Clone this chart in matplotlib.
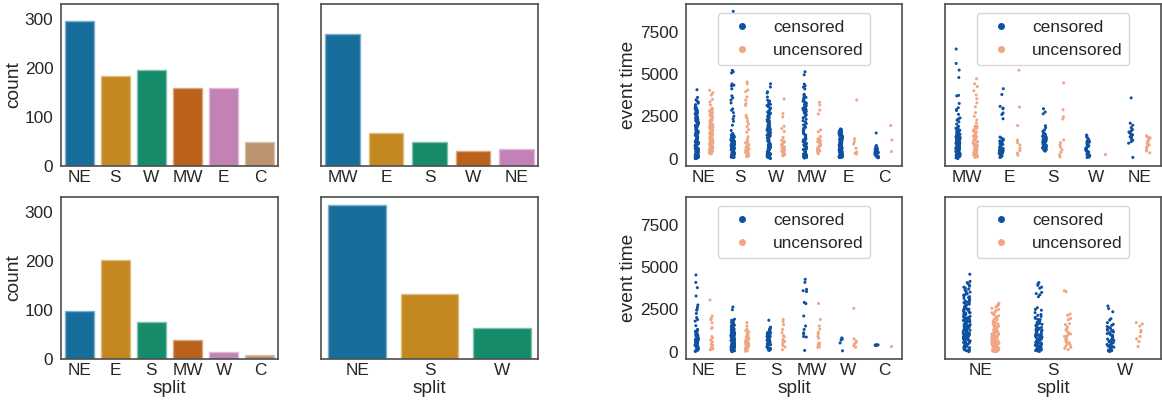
import matplotlib
matplotlib.use("Agg")
import matplotlib.pyplot as plt
from matplotlib.lines import Line2D
import numpy as np
import pandas as pd
import seaborn as sns

sns.set_style("white")
plt.rcParams["font.family"] = ["Liberation Sans", "DejaVu Sans"]
plt.rcParams["text.color"] = "0.15"
plt.rcParams["axes.labelcolor"] = "0.15"
plt.rcParams["xtick.color"] = "0.15"
plt.rcParams["ytick.color"] = "0.15"

np.random.seed(3)

#------------------#
#    bar counts    #
#------------------#
bar_a_cats = ["NE", "S", "W", "MW", "E", "C"]
bar_a_counts = [296, 183, 195, 159, 158, 49]
bar_b_cats = ["MW", "E", "S", "W", "NE"]
bar_b_counts = [268, 68, 49, 31, 34]
bar_c_cats = ["NE", "E", "S", "MW", "W", "C"]
bar_c_counts = [97, 201, 75, 39, 14, 8]
bar_d_cats = ["NE", "S", "W"]
bar_d_counts = [314, 132, 64]

#------------------------------#
#    event times (strip)       #
#------------------------------#
# panel A (top left), order NE S W MW E C
a_cens = {
    "NE": [4070, 3620, 3480, 3410, 3350, 3280, 3190, 3120, 3050, 2980, 2930, 2870, 2850, 2790, 2740, 2710,
           2660, 2620, 2590, 2540, 2510, 2460, 2440, 2390, 2350, 2320, 2280, 2250, 2200, 2180, 2130, 2110,
           2070, 2020, 2000, 1960, 1930, 1880, 1860, 1820, 1790, 1750, 1720, 1690, 1650, 1630, 1590, 1560,
           1520, 1500, 1470, 1440, 1410, 1380, 1350, 1330, 1290, 1270, 1240, 1210, 1180, 1160, 1130, 1100,
           1080, 1050, 1020, 1000, 970, 950, 920, 900, 870, 850, 820, 800, 780, 750, 730, 700, 680, 660,
           630, 610, 590, 560, 540, 520, 500, 470, 450, 430, 410, 380, 360, 340, 320, 300, 280, 260, 240,
           220, 200, 180, 160, 140, 120, 100, 90, 70, 50, 40, 30, 20, 10, 1540, 1250, 980, 760, 610, 420,
           300, 180, 2290, 1870, 1420, 890, 560, 250, 80],
    "S": [8690, 5210, 5130, 5060, 4410, 4340, 4290, 4120, 3710, 3590, 3460, 3290, 2940, 2860, 2720, 2510,
          2360, 2210, 1980, 1670, 1490, 1460, 1430, 1400, 1380, 1350, 1330, 1300, 1280, 1260, 1240, 1220,
          1200, 1180, 1160, 1140, 1120, 1100, 1080, 1060, 1040, 1020, 1000, 980, 960, 940, 920, 900, 880,
          860, 840, 820, 800, 780, 760, 740, 720, 700, 680, 660, 640, 620, 600, 580, 560, 540, 520, 500,
          480, 460, 440, 420, 400, 380, 360, 340, 320, 300, 280, 260, 240, 220, 200, 180, 160, 140, 120,
          100, 80, 1250, 1110, 970, 850, 730, 610, 490, 370, 250, 150, 90],
    "W": [4420, 4230, 3950, 3880, 3640, 3450, 3400, 3330, 3270, 3200, 3140, 3060, 2990, 2900, 2830, 2760,
          2700, 2620, 2560, 2500, 2450, 2390, 2340, 2290, 2230, 2180, 2130, 2080, 2030, 1980, 1930, 1880,
          1830, 1790, 1740, 1700, 1650, 1610, 1570, 1520, 1480, 1440, 1400, 1360, 1320, 1280, 1240, 1200,
          1160, 1120, 1090, 1050, 1010, 980, 940, 910, 870, 840, 810, 780, 750, 720, 690, 660, 630, 600,
          570, 540, 510, 480, 450, 420, 390, 360, 330, 300, 270, 240, 210, 180, 150, 120, 100, 80, 60, 40,
          20, 2750, 2410, 1960, 1530, 1170, 850, 560, 330, 140, 3210, 2650, 2100, 1400, 700, 250],
    "MW": [5130, 4950, 4400, 4300, 4220, 4120, 3800, 3740, 3680, 3620, 3560, 3510, 3460, 3400, 3350, 3300,
           3250, 3210, 3170, 3120, 3080, 3040, 3000, 2960, 2910, 2870, 2830, 2790, 2740, 2700, 2650, 2590,
           2500, 2420, 2330, 2250, 2160, 2080, 2000, 1930, 1860, 1790, 1720, 1650, 1590, 1520, 1460, 1400,
           1340, 1280, 1220, 1170, 1120, 1070, 1020, 970, 920, 880, 840, 800, 760, 720, 680, 640, 600, 560,
           520, 480, 440, 400, 360, 320, 280, 240, 200, 160, 120, 80, 40, 3150, 2980, 2820, 1010, 730, 470,
           190, 1310, 890, 550],
    "E": [1760, 1730, 1700, 1680, 1650, 1620, 1600, 1580, 1550, 1520, 1500, 1470, 1450, 1430, 1400, 1380,
          1350, 1330, 1300, 1280, 1260, 1230, 1210, 1190, 1160, 1140, 1120, 1100, 1080, 1050, 1030, 1010,
          990, 970, 950, 930, 910, 890, 870, 850, 830, 810, 790, 770, 750, 730, 710, 690, 670, 650, 630,
          610, 590, 570, 550, 530, 510, 490, 470, 450, 430, 410, 390, 370, 350, 330, 310, 290, 270, 250,
          230, 210, 190, 170, 150, 130, 110, 90, 80, 70, 1420, 1190, 960, 820, 680, 540, 400, 260, 150,
          100, 1540, 1270, 1010, 760, 500],
    "C": [1520, 780, 740, 700, 660, 620, 590, 560, 530, 500, 470, 450, 430, 400, 380, 360, 340, 310, 280,
          250, 220, 190, 160, 130, 100, 80, 60, 520, 410, 300],
}
a_unc = {
    "NE": [4040, 3890, 3760, 3500, 3360, 3180, 2990, 2920, 2870, 2810, 2740, 2680, 2600, 2540, 2480, 2430,
           2380, 2320, 2270, 2210, 2160, 2110, 2050, 2000, 1960, 1910, 1870, 1830, 1790, 1750, 1710, 1680,
           1640, 1610, 1580, 1540, 1510, 1480, 1450, 1420, 1390, 1350, 1320, 1290, 1260, 1230, 1200, 1170,
           1140, 1110, 1080, 1050, 1020, 990, 960, 930, 900, 870, 840, 800, 760, 720, 680, 640, 600, 560,
           520, 480, 440, 400, 360, 320, 290, 1850, 1560, 1300, 1010, 750],
    "S": [4530, 4420, 4050, 3960, 3650, 3460, 3250, 3150, 2560, 2470, 2380, 2210, 2050, 1890, 1720, 1560,
          1300, 1150, 1020, 900, 830, 760, 690, 640, 580, 520, 470, 420, 380, 330, 290, 250, 210, 180, 150,
          120, 950, 480, 270],
    "W": [3530, 2660, 2470, 1920, 1780, 1610, 1260, 1100, 980, 900, 820, 760, 690, 620, 560, 500, 440, 390,
          330, 280, 230, 180, 1050, 870, 520, 260],
    "MW": [3330, 3170, 2870, 2640, 1700, 1590, 1310, 1210, 1150, 1080, 1010, 950, 890, 830, 770, 710, 660,
           600, 540, 480, 420, 360, 300],
    "E": [3470, 1180, 1010, 880, 620, 400, 330, 280],
    "C": [1960, 1110, 430],
}

# panel B (top right), order MW E S W NE
b_cens = {
    "MW": [6470, 5620, 5230, 4790, 3740, 3710, 3260, 3010, 2900, 2850, 2620, 2410, 2350, 2280, 2180, 2050,
           1920, 1860, 1800, 1760, 1720, 1680, 1640, 1600, 1570, 1540, 1500, 1470, 1440, 1410, 1380, 1350,
           1320, 1290, 1260, 1230, 1200, 1170, 1140, 1110, 1080, 1060, 1030, 1000, 980, 950, 930, 900, 880,
           850, 830, 810, 780, 760, 740, 710, 690, 670, 650, 620, 600, 580, 560, 540, 520, 500, 480, 460,
           440, 420, 400, 380, 360, 340, 320, 300, 280, 260, 240, 220, 200, 180, 160, 140, 120, 100, 80,
           60, 40, 20, 1650, 1450, 1250, 1050, 870, 690, 510, 330, 150, 1350, 1150, 950, 750, 550, 350,
           170, 90],
    "E": [4130, 3790, 3090, 2990, 2950, 2700, 2610, 2360, 1280, 1220, 1160, 1110, 1060, 1010, 970, 930, 890,
          850, 810, 770, 730, 690, 650, 610, 580, 550, 520, 490, 460, 430, 400, 370, 340, 310, 280, 250,
          220, 190, 160, 130, 100, 80, 1050, 820, 600, 390, 200],
    "S": [2950, 2760, 2650, 1950, 1830, 1700, 1620, 1540, 1480, 1430, 1380, 1330, 1290, 1250, 1210, 1170,
          1130, 1090, 1050, 1010, 970, 930, 890, 850, 810, 770, 730, 690, 650, 610, 570, 530, 490, 450,
          1310, 1150, 990],
    "W": [1400, 1350, 1280, 1210, 1150, 1090, 1030, 980, 930, 880, 830, 780, 740, 700, 660, 620, 580, 540,
          500, 460, 420, 380, 340, 300, 260, 220, 180, 140, 100, 80],
    "NE": [3590, 2100, 1980, 1840, 1720, 1650, 1580, 1510, 1460, 1410, 1360, 1300, 1240, 1170, 1090, 1010,
           920, 80],
}
b_unc = {
    "MW": [4720, 4420, 4260, 4010, 3760, 3540, 3290, 3060, 2720, 2500, 2290, 2110, 1930, 1880, 1820, 1760,
           1700, 1640, 1580, 1520, 1460, 1400, 1340, 1290, 1240, 1190, 1140, 1090, 1040, 990, 940, 900,
           860, 820, 780, 740, 700, 660, 620, 580, 540, 500, 460, 420, 380, 340, 300, 260, 220, 180, 140,
           110, 80, 1610, 1270, 1010, 760, 530, 310, 150, 1920, 1420, 870, 450],
    "E": [5220, 3050, 1960, 1100, 960, 820, 640, 480, 330, 210],
    "S": [4470, 2890, 2480, 2350, 1110, 950, 820, 680, 540, 400, 250, 110],
    "W": [280],
    "NE": [1360, 1300, 1240, 1180, 1110, 1040, 970, 900, 820, 740, 650, 560, 460, 350],
}

# panel C (bottom left), order NE E S MW W C
c_cens = {
    "NE": [4530, 4090, 3780, 3290, 2760, 2630, 2500, 2450, 2260, 2020, 1900, 1810, 1540, 1320, 1280, 1230,
           1180, 1130, 1080, 1040, 1000, 960, 920, 880, 840, 800, 770, 740, 710, 680, 650, 620, 590, 560,
           530, 500, 470, 440, 410, 380, 350, 320, 290, 260, 230, 200, 170, 140, 110, 80, 50, 20, 1210,
           950, 730, 520, 330, 150],
    "E": [2640, 2480, 1920, 1860, 1810, 1770, 1730, 1690, 1650, 1610, 1570, 1530, 1490, 1450, 1420, 1390,
          1360, 1330, 1300, 1270, 1240, 1210, 1180, 1150, 1120, 1090, 1060, 1040, 1010, 990, 960, 940, 910,
          890, 860, 840, 810, 790, 770, 740, 720, 700, 680, 650, 630, 610, 590, 570, 550, 530, 510, 490,
          470, 450, 430, 410, 390, 370, 350, 330, 310, 290, 270, 250, 230, 210, 190, 170, 150, 130, 110,
          90, 70, 50, 30, 20, 10, 1550, 1320, 1100, 880, 660, 440, 220, 60, 1450, 1200, 980, 760, 540,
          320, 140, 1000, 800, 600, 400, 250],
    "S": [1860, 1450, 1400, 1350, 1310, 1270, 1230, 1190, 1160, 1130, 1100, 1070, 1040, 1010, 980, 950, 920,
          890, 860, 830, 800, 770, 740, 710, 680, 650, 620, 590, 560, 530, 500, 470, 440, 410, 380, 350,
          320, 290, 260, 230, 200, 170, 140, 110, 80, 1020, 870, 720, 570, 420],
    "MW": [4270, 4090, 3680, 3600, 3550, 2910, 2840, 2110, 1520, 1320, 1120, 1050, 900, 870, 80],
    "W": [820, 760, 690, 520, 60],
    "C": [420, 410, 390, 380, 370],
}
c_unc = {
    "NE": [3050, 2110, 1960, 1880, 1700, 1420, 1380, 900, 820, 680, 580, 440, 390, 310, 250, 190, 150, 120],
    "E": [1720, 1520, 1330, 1250, 1180, 1110, 1050, 980, 920, 860, 800, 750, 700, 650, 600, 550, 500, 460,
          420, 380, 340, 300, 260, 220, 180, 140, 100, 60, 30, 470, 210],
    "S": [1900, 1780, 1600, 1320, 1130, 950, 880, 720, 620, 560, 470, 380, 280, 120],
    "MW": [2850, 1900, 1520, 1340, 1150, 1060, 910, 800, 520, 480, 440, 400, 360, 320, 290, 260],
    "W": [2560, 760, 640, 560, 480, 360, 270],
    "C": [320],
}

# panel D (bottom right), order NE S W
d_cens = {
    "NE": [4570, 4150, 4080, 4010, 3940, 3870, 3810, 3760, 3700, 3640, 3580, 3520, 3470, 3410, 3360, 3300,
           3250, 3200, 3150, 3100, 3050, 3000, 2950, 2900, 2860, 2810, 2770, 2720, 2680, 2640, 2600, 2560,
           2520, 2480, 2440, 2400, 2360, 2320, 2280, 2240, 2200, 2170, 2130, 2090, 2060, 2020, 1990, 1950,
           1920, 1880, 1850, 1820, 1790, 1750, 1720, 1690, 1660, 1630, 1600, 1570, 1540, 1510, 1480, 1450,
           1420, 1390, 1360, 1330, 1300, 1270, 1240, 1210, 1180, 1150, 1120, 1090, 1060, 1030, 1000, 970,
           940, 910, 880, 850, 820, 790, 760, 730, 700, 670, 640, 610, 580, 550, 520, 490, 460, 430, 400,
           370, 340, 310, 280, 250, 220, 190, 160, 130, 100, 70, 40, 10, 3330, 2930, 2510, 2150, 1760,
           1380, 1010, 640, 270, 1850, 1460, 1120, 830, 560, 300, 120, 2300, 1600, 900, 450],
    "S": [4080, 4010, 3920, 3810, 3750, 3500, 3430, 3360, 3250, 2600, 2500, 2450, 2310, 2200, 2150, 2090,
          2030, 1970, 1910, 1850, 1790, 1730, 1680, 1630, 1580, 1530, 1480, 1430, 1390, 1350, 1310, 1270,
          1230, 1190, 1150, 1110, 1070, 1030, 990, 950, 920, 890, 860, 830, 800, 770, 740, 710, 680, 650,
          620, 590, 560, 530, 500, 470, 440, 410, 380, 350, 320, 290, 260, 230, 200, 170, 140, 110, 80, 50,
          20, 1620, 1260, 960, 720, 480, 260, 90, 1900, 1400, 1000, 600, 300],
    "W": [2700, 2550, 2360, 1950, 1870, 1720, 1620, 1560, 1490, 1430, 1370, 1320, 1270, 1220, 1170, 1120,
          1070, 1020, 970, 920, 870, 830, 790, 750, 710, 670, 630, 590, 550, 510, 470, 430, 390, 350, 310,
          270, 230, 190, 150, 110, 70, 40, 20, 1250, 980, 640, 330, 90],
}
d_unc = {
    "NE": [2860, 2810, 2750, 2690, 2630, 2560, 2490, 2420, 2360, 2300, 2240, 2180, 2120, 2060, 2000, 1940,
           1880, 1830, 1780, 1730, 1680, 1630, 1580, 1540, 1500, 1460, 1420, 1380, 1340, 1300, 1260, 1220,
           1190, 1160, 1130, 1100, 1070, 1040, 1010, 980, 950, 920, 890, 860, 830, 800, 770, 740, 710, 680,
           650, 620, 590, 560, 530, 500, 470, 440, 410, 380, 350, 320, 290, 260, 230, 200, 170, 140, 110,
           80, 50, 30, 10, 1250, 1050, 880, 720, 600, 480, 360, 240, 150, 90, 40, 950, 760, 580, 420, 280,
           160, 70, 20, 1350, 1150, 820, 540, 330, 190, 60],
    "S": [3600, 3540, 2230, 2150, 1960, 1890, 1660, 1600, 1470, 1420, 1300, 1220, 1120, 1050, 980, 910, 850,
          790, 720, 660, 590, 530, 470, 400, 340, 270, 200, 130],
    "W": [1720, 1640, 1520, 1260, 1160, 900, 760, 600, 310],
}

status_order = ["censored", "uncensored"]
status_colors = ["#0f50a0", "#f0a583"]
bar_colors = sns.color_palette("colorblind", 6, desat=0.75)


def to_frame(cens, unc):
    rows = []
    for k, vals in cens.items():
        for v in vals:
            rows.append((k, "censored", v))
    for k, vals in unc.items():
        for v in vals:
            rows.append((k, "uncensored", v))
    return pd.DataFrame(rows, columns=["split", "status", "event time"])


W, H = 1162, 404
fig = plt.figure(figsize=(W / 100, H / 100), dpi=100)


def px_axes(x0, x1, y0, y1, **kw):
    return fig.add_axes([x0 / W, 1 - y1 / H, (x1 - x0) / W, (y1 - y0) / H], **kw)


cols = [(61, 278), (321, 538), (686, 902), (945, 1161)]
rows_px = [(4, 166), (197, 359)]

ax_bar = [[None, None], [None, None]]
ax_bar[0][0] = px_axes(*cols[0], *rows_px[0])
ax_bar[0][1] = px_axes(*cols[1], *rows_px[0], sharey=ax_bar[0][0])
ax_bar[1][0] = px_axes(*cols[0], *rows_px[1], sharey=ax_bar[0][0])
ax_bar[1][1] = px_axes(*cols[1], *rows_px[1], sharey=ax_bar[0][0])

ax_st = [[None, None], [None, None]]
ax_st[0][0] = px_axes(*cols[2], *rows_px[0])
ax_st[0][1] = px_axes(*cols[3], *rows_px[0], sharey=ax_st[0][0])
ax_st[1][0] = px_axes(*cols[2], *rows_px[1], sharey=ax_st[0][0])
ax_st[1][1] = px_axes(*cols[3], *rows_px[1], sharey=ax_st[0][0])

bar_sets = [[(bar_a_cats, bar_a_counts), (bar_b_cats, bar_b_counts)],
            [(bar_c_cats, bar_c_counts), (bar_d_cats, bar_d_counts)]]
strip_sets = [[(bar_a_cats, a_cens, a_unc), (bar_b_cats, b_cens, b_unc)],
              [(bar_c_cats, c_cens, c_unc), (bar_d_cats, d_cens, d_unc)]]

TICK = 12.4
LAB = 13.8


def style(ax, r, c, ylab):
    for s in ax.spines.values():
        s.set_color("0.3")
        s.set_linewidth(1.2)
    ax.tick_params(axis="both", length=0, labelsize=TICK)
    ax.tick_params(axis="x", pad=3)
    ax.tick_params(axis="y", pad=5.5)
    if c == 0:
        ax.set_ylabel(ylab, fontsize=LAB, labelpad=2)
    else:
        ax.set_ylabel("")
        ax.tick_params(axis="y", labelleft=False)
    if r == 1:
        ax.set_xlabel("split", fontsize=LAB, labelpad=1)
    else:
        ax.set_xlabel("")


for r in range(2):
    for c in range(2):
        ax = ax_bar[r][c]
        cats, counts = bar_sets[r][c]
        fills = bar_colors[:len(cats)]
        edges = [tuple(0.55 * np.array(f) + 0.45) for f in fills]
        ax.bar(cats, counts, width=0.8, color=fills, edgecolor=edges, linewidth=1.0)
        ax.set_xlim(-0.5, len(cats) - 0.5)
        ax.set_yticks([0, 100, 200, 300])
        style(ax, r, c, "count")

for r in range(2):
    for c in range(2):
        ax = ax_st[r][c]
        cats, cens, unc = strip_sets[r][c]
        df = to_frame(cens, unc)
        sns.stripplot(data=df, x="split", y="event time", hue="status", order=cats,
                      hue_order=status_order, palette=status_colors, dodge=True,
                      jitter=True, size=2.2, linewidth=0, ax=ax)
        ax.set_xlim(-0.5, len(cats) - 0.5)
        ax.set_yticks([0, 2500, 5000, 7500])
        handles = [Line2D([], [], ls="", marker="o", markersize=4, color=col) for col in status_colors]
        ax.legend(handles, status_order, loc="upper center", fontsize=TICK)
        style(ax, r, c, "event time")

fig.savefig("out.png", dpi=100)
